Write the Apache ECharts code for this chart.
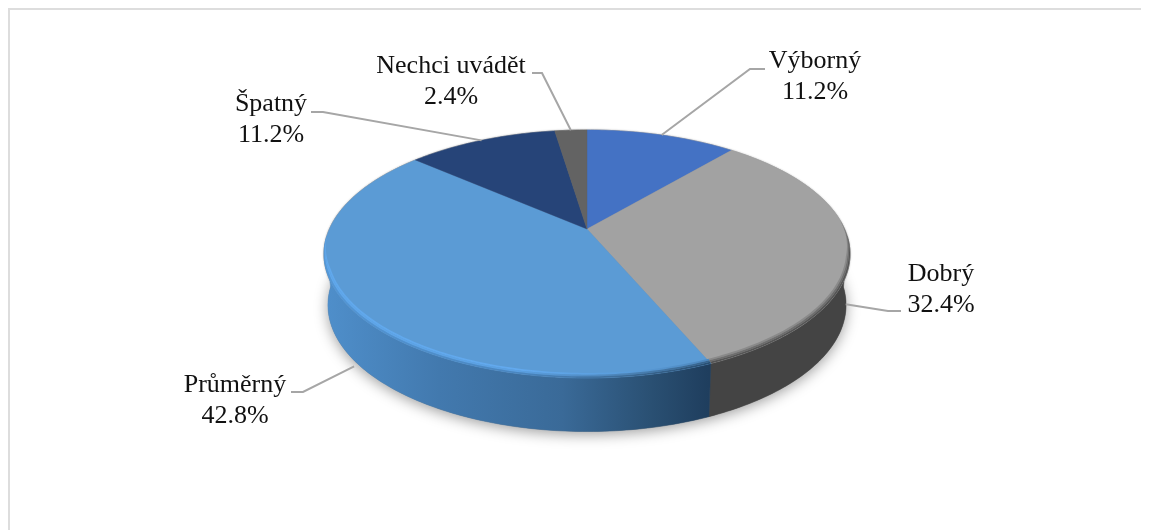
<!DOCTYPE html>
<html><head><meta charset="utf-8">
<style>html,body{margin:0;padding:0;background:#fff}#c{width:1151px;height:530px}</style>
<script src="https://cdn.jsdelivr.net/npm/echarts@6/dist/echarts.min.js"></script>
</head><body><div id="c"></div>
<script>
const categories = ['Výborný','Dobrý','Průměrný','Špatný','Nechci uvádět'];
const shares = [11.2,32.4,42.8,11.2,2.4];
const topColors = ['#4472C4','#A2A2A2','#5B9BD5','#264478','#636363'];

// projection of the pie disc: perspective tilt
const P = {cx:587, cy:229, R:257.6, b:119, k:0.2016, depth:51};
const labelBoxes = [[815,77],[941,290],[235,401],[271,120],[451,82]];
const elbows = [[[750,69],[765,69]],[[888,311],[901,311]],[[303,392],[291,392]],[[323,112],[311,112]],[[542,73],[532,73]]];
const FONT = '"Liberation Serif","Times New Roman",serif';

function proj(deg, r, face){
  const a = deg*Math.PI/180, X = r*Math.sin(a), Y = -r*Math.cos(a), w = 1-P.k*Y;
  let x = P.cx + P.R*X/w, y = P.cy + P.b*Y/w;
  if(face==='bottom'){ x = P.cx + (x-P.cx)*0.985; y = 254 + (y-254)*1.02 + P.depth; }
  return [x,y];
}
function arc(a0,a1,r,face,dy){
  const n = Math.max(2,Math.ceil(Math.abs(a1-a0))), pts=[];
  for(let i=0;i<=n;i++){ const p=proj(a0+(a1-a0)*i/n,r,face); pts.push([p[0],p[1]+(dy||0)]); }
  return pts;
}
const poly=(points,style,extra)=>Object.assign({type:'polygon',shape:{points},style,silent:true},extra||{});
const hGrad=(x0,x1,stops)=>new echarts.graphic.LinearGradient(x0,0,x1,0,stops.map(s=>({offset:s[0],color:s[1]})),true);

const sum = shares.reduce((a,b)=>a+b,0);
const starts = shares.map((_,i)=>shares.slice(0,i).reduce((a,b)=>a+b,0)*360/sum);
const FRONT_R=101.6, FRONT_L=258.4, RIM_R=86, RIM_L=268;

// rim edge at inset u (0..1 of rim width), tapering toward the silhouette ends
function rimEdge(a0,a1,u){
  const n=Math.max(2,Math.ceil(a1-a0)), pts=[];
  for(let i=0;i<=n;i++){
    const a=a0+(a1-a0)*i/n, t=Math.min(1,(a-RIM_R)/18,(RIM_L-a)/18);
    const p=proj(a,1-0.014*u*t);
    pts.push([p[0],p[1]-2.5*u*t]);
  }
  return pts;
}
function band(a0,a1,u0,u1,fill){
  return poly(rimEdge(a0,a1,u0).concat(rimEdge(a0,a1,u1).reverse()),{fill});
}
function renderSlice(params, api){
  const i = params.dataIndex, value = api.value(1);
  const a0 = starts[i], a1 = a0 + value*360/sum;
  const kids = [];
  const w0 = Math.max(a0,FRONT_R-8), w1 = Math.min(a1,FRONT_L+8);
  const isDark = i===1;
  const wallFill = isDark ? '#444444'
    : hGrad(324,708,[[0,'#4F8FCB'],[0.3,'#4279AE'],[0.62,'#3A6A98'],[0.85,'#2A5073'],[1,'#1F3E5E']]);
  if(w1>w0){
    kids.push(poly(arc(w0,w1,1).concat(arc(w1,w0,1,'bottom')),{fill:wallFill,stroke:wallFill,lineWidth:0.5}));
  }
  kids.push(poly([[P.cx,P.cy]].concat(arc(a0,a1,1)),{fill:topColors[i],stroke:topColors[i],lineWidth:0.4}));
  const r0 = Math.max(a0,RIM_R), r1 = Math.min(a1,RIM_L);
  if(r1>r0){
    if(isDark){
      kids.push(band(r0,r1,1,0.66,'#8A8A8A'));
      kids.push(band(r0,r1,0.66,0.33,'#6E6E6E'));
      kids.push(band(r0,r1,0.33,0,'#555555'));
    } else {
      kids.push(band(r0,r1,1,0.66,hGrad(324,708,[[0,'#60A8EC'],[0.5,'#62A9EE'],[0.78,'#5A9DDB'],[1,'#4E88BE']])));
      kids.push(band(r0,r1,0.66,0.33,hGrad(324,708,[[0,'#5FA7EB'],[0.5,'#5BA0E2'],[0.78,'#4C84B8'],[1,'#37638C']])));
      kids.push(band(r0,r1,0.33,0,hGrad(324,708,[[0,'#5497D6'],[0.5,'#4A86C0'],[0.78,'#3D6C98'],[1,'#2A4F72']])));
    }
  }
  return {type:'group',children:kids};
}
function renderBase(){
  return {type:'group',children:[
    poly(arc(0,360,1,'bottom'),{fill:'#777',shadowColor:'rgba(0,0,0,0.38)',shadowBlur:14,shadowOffsetY:3}),
    poly(arc(0,360,1),{fill:'#888',stroke:'#A8A8A8',lineWidth:1,shadowColor:'rgba(0,0,0,0.22)',shadowBlur:2})
  ]};
}
function renderLeader(params, api){
  const i = params.dataIndex;
  const mid = starts[i] + api.value(1)*180/sum;
  const onWall = mid>FRONT_R-8 && mid<FRONT_L+8;
  const s = proj(mid,1,onWall?'bottom':null);
  const start = onWall ? [s[0],s[1]+6] : s;
  return {type:'group',children:[
    {type:'polyline',shape:{points:[start].concat(elbows[i])},style:{fill:null,stroke:'#A6A6A6',lineWidth:2},silent:true},
    {type:'text',x:labelBoxes[i][0],y:labelBoxes[i][1],style:{
      text:categories[i]+'\n'+shares[i].toFixed(1)+'%',font:'26px '+FONT,fill:'#111',
      align:'center',verticalAlign:'middle',lineHeight:31}}
  ]};
}
const seriesData = categories.map((n,i)=>({name:n,value:[i,shares[i]]}));
const chart = echarts.init(document.getElementById('c'),null,{renderer:'canvas'});
chart.setOption({
  animation:false,backgroundColor:'#fff',
  graphic:[{type:'polyline',z:0,shape:{points:[[9,530],[9,9],[1141,9]]},style:{fill:null,stroke:'#DDDDDD',lineWidth:2}}],
  series:[
    {type:'custom',coordinateSystem:'none',renderItem:renderBase,data:[[0,0]],z:1,silent:true},
    {type:'custom',coordinateSystem:'none',renderItem:renderSlice,data:seriesData,z:2,silent:true},
    {type:'custom',coordinateSystem:'none',renderItem:renderLeader,data:seriesData,z:3,silent:true}
  ]
});
</script></body></html>
